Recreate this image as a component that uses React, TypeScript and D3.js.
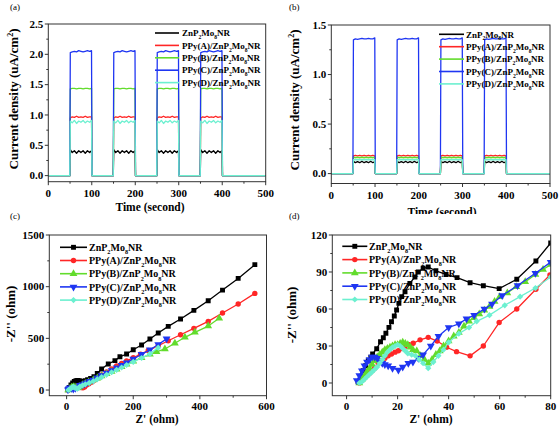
import React from "react";
import * as d3 from "d3";

const W = 559;
const H = 428;
const FONT = "'Liberation Serif', 'Times New Roman', serif";

// ---------- shared legend / style data ----------
const PREFIXES = ["", "PPy(A)/", "PPy(B)/", "PPy(C)/", "PPy(D)/"];
const COLORS = ["#000000", "#ff2626", "#62dc2c", "#1f36f2", "#6cf0d0"];
const MARKERS = ["square", "circle", "triangle", "triangleDown", "diamond"];

// ---------- panel (a): photocurrent ----------
const A_ON = [50, 150, 250, 350];
const A_OFF = [100, 200, 300, 400];
const T_END = 500;
const PLATEAU_T = [0.6, 5, 10, 15, 20, 25, 30, 35, 40, 45, 49.4];
const A_ZNP = [0.43, 0.38, 0.41, 0.37, 0.41, 0.38, 0.41, 0.37, 0.41, 0.38, 0.41];
const A_PPYA = [0.95, 0.97, 0.96, 0.98, 0.96, 0.97, 0.96, 0.98, 0.96, 0.97, 0.97];
const A_PPYB = [1.43, 1.44, 1.44, 1.43, 1.44, 1.44, 1.43, 1.44, 1.44, 1.43, 1.44];
const A_PPYC = [2.03, 2.04, 2.05, 2.04, 2.06, 2.05, 2.04, 2.05, 2.06, 2.05, 2.06];
const A_PPYD = [0.9, 0.87, 0.91, 0.86, 0.9, 0.88, 0.91, 0.87, 0.9, 0.88, 0.91];
const A_EDGE = [0.2, 0.48, 0.72, 1.02, 0.45];
const A_XTICKS = [0, 100, 200, 300, 400, 500];
const A_YTICKS = [0, 0.5, 1.0, 1.5, 2.0, 2.5];

// ---------- panel (b): photocurrent ----------
const B_ZNP = [0.125, 0.11, 0.12, 0.11, 0.125, 0.11, 0.12, 0.11, 0.125, 0.11, 0.12];
const B_PPYA = [0.18, 0.185, 0.18, 0.185, 0.18, 0.185, 0.18, 0.185, 0.18, 0.185, 0.18];
const B_PPYB = [0.165, 0.16, 0.165, 0.16, 0.165, 0.16, 0.165, 0.16, 0.165, 0.16, 0.165];
const B_PPYC = [1.35, 1.36, 1.355, 1.36, 1.365, 1.36, 1.36, 1.365, 1.36, 1.36, 1.37];
const B_PPYD = [0.14, 0.14, 0.14, 0.14, 0.14, 0.14, 0.14, 0.14, 0.14, 0.14, 0.14];
const B_EDGE = [0.06, 0.09, 0.08, 0.68, 0.07];
const B_XTICKS = [0, 100, 200, 300, 400, 500];
const B_YTICKS = [0, 0.5, 1.0, 1.5];

// ---------- panel (c): Nyquist, full ----------
const C_ZNP: [number, number][] = [[3, 3], [8, 25], [13, 48], [18, 68], [23, 82], [28, 90], [33, 92], [38, 90], [43, 86], [49, 84], [56, 90], [63, 100], [72, 112], [82, 128], [92, 160], [105, 203], [125, 252], [145, 284], [160, 322], [180, 348], [200, 390], [225, 436], [250, 494], [275, 552], [305, 616], [342, 687], [382, 771], [425, 864], [468, 967], [515, 1080], [565, 1213]];
const C_PPYA: [number, number][] = [[5, 0], [10, 10], [16, 20], [22, 28], [28, 34], [33, 37], [38, 30], [44, 25], [49, 22], [54, 30], [60, 49], [67, 60], [74, 76], [80, 87], [92, 112], [105, 145], [120, 175], [135, 205], [150, 232], [165, 258], [180, 282], [200, 312], [222, 347], [245, 382], [275, 428], [305, 477], [342, 535], [382, 597], [425, 664], [468, 745], [515, 832], [565, 935]];
const C_PPYB: [number, number][] = [[5, 0], [10, 15], [15, 27], [20, 31], [25, 29], [30, 20], [35, 23], [40, 34], [48, 50], [56, 62], [66, 78], [80, 96], [92, 115], [105, 135], [120, 158], [135, 180], [150, 202], [165, 225], [180, 250], [200, 278], [225, 312], [250, 345], [270, 370], [295, 397], [325, 452], [355, 510], [385, 558], [425, 619], [458, 694]];
const C_PPYC: [number, number][] = [[4, 2], [7, 14], [10, 21], [14, 16], [20, 10], [26, 17], [33, 30], [40, 45], [47, 52], [54, 60], [61, 71], [70, 84], [80, 98], [92, 118], [105, 140], [120, 165], [135, 190], [150, 215], [165, 240], [180, 265], [200, 300], [225, 345], [250, 390], [275, 440], [300, 495]];
const C_PPYD: [number, number][] = [[5, 0], [9, 7], [13, 16], [17, 27], [20, 31], [24, 24], [28, 19], [32, 12], [36, 22], [40, 33], [48, 45], [56, 55], [68, 70], [80, 86], [92, 105], [105, 125], [120, 148], [135, 172], [150, 195], [165, 218], [180, 242], [200, 272], [225, 310], [250, 350], [275, 410]];
const C_XTICKS = [0, 200, 400, 600];
const C_YTICKS = [0, 500, 1000, 1500];

// ---------- panel (d): Nyquist, zoomed ----------
const D_ZNP: [number, number][] = [[4.5, 1], [5.5, 5], [6.5, 10], [7.5, 14], [8.5, 18], [9.5, 21], [10.2, 23.5], [11.8, 27.8], [13.3, 33.5], [14.4, 36.7], [15.4, 40.3], [16.6, 45.1], [17.6, 49.7], [18.7, 54.3], [19.6, 59.2], [20.5, 64.6], [21.6, 70], [22.9, 74], [24.8, 80.8], [26.8, 86], [28.1, 90], [30, 93], [32, 94], [35, 91], [39, 88], [43.3, 85.4], [48.4, 81.3], [53.6, 78.9], [59.8, 76.5], [66.7, 84.1], [74.2, 98.9], [80, 113.5]];
const D_PPYA: [number, number][] = [[5, 0], [6, 2], [7, 4], [8, 6], [9, 8], [10, 10], [11, 12], [12.4, 16], [13.5, 18], [15, 20], [16.3, 22], [17.6, 23.5], [19, 25], [20.3, 26.2], [21.5, 28], [22.9, 29.5], [24.5, 31], [26.1, 32.2], [28.8, 35], [32, 37], [35.5, 34], [39.2, 29], [43.1, 25.4], [48.4, 22], [53.6, 30], [59.8, 49], [66.7, 60], [74.2, 76], [79.7, 87.6]];
const D_PPYB: [number, number][] = [[5, 0], [6, 3], [7, 6], [8, 9], [9, 12], [10, 15], [11, 18], [12, 21], [13, 23], [14, 25], [15, 27], [16, 28], [17, 29], [18, 30], [19, 31], [20, 31], [21, 32], [22, 33], [23, 32], [24, 31], [25, 29], [26, 27], [27.5, 26], [29, 22], [30.5, 19], [32, 16], [33.5, 19], [35, 23], [36.5, 26], [38, 30], [40, 34], [42, 38], [44, 41], [46, 46], [48, 50], [50, 53], [52, 56], [54, 59], [56, 62], [58, 66], [60, 70], [63, 73], [66.5, 78], [70, 82], [74, 88], [77, 92], [80, 96]];
const D_PPYC: [number, number][] = [[4, 2], [5, 6], [6, 10], [7, 14], [8, 17], [9, 19], [10, 21], [11, 21], [12, 20], [13, 18], [14, 16], [15, 15], [16.3, 14], [18, 12], [20.3, 10.6], [22, 13], [24.2, 16], [26, 17], [28.1, 20], [30, 23], [33, 30], [36, 38], [40, 45], [44, 48], [47, 52], [50, 55], [54, 60], [57, 64], [61, 71], [67, 79], [74, 89], [80, 98]];
const D_PPYD: [number, number][] = [[5, 0], [6, 1], [7, 3], [8, 5], [9, 7], [10, 9], [11, 11], [12, 13], [13, 16], [14, 19], [15, 22], [16, 25], [17, 27], [18, 29], [19, 30], [20, 31], [21, 30], [22, 28], [23, 26], [24, 24], [25.5, 23], [27, 22], [28.5, 19], [30, 16], [32, 12], [34, 17], [36, 22], [38, 27], [40, 33], [44, 40], [48, 45], [51, 50], [56, 55], [62, 63], [68, 70], [74, 77], [80, 86]];
const D_XTICKS = [0, 20, 40, 60, 80];
const D_YTICKS = [0, 30, 60, 90, 120];

type Pt = [number, number];

function squareWave(plateau: number[], edge: number): Pt[] {
  const pts: Pt[] = [[0, 0]];
  A_ON.forEach((on, i) => {
    const off = A_OFF[i];
    pts.push([on - 0.6, 0], [on, edge]);
    PLATEAU_T.forEach((t, j) => pts.push([on + t, plateau[j]]));
    pts.push([off, edge], [off + 0.6, 0]);
  });
  pts.push([T_END, 0]);
  return pts;
}

function markerPath(kind: string, size: number): { d: string; rot: number } {
  switch (kind) {
    case "square":
      return { d: d3.symbol(d3.symbolSquare, size)()!, rot: 0 };
    case "circle":
      return { d: d3.symbol(d3.symbolCircle, size * 0.95)()!, rot: 0 };
    case "triangle":
      return { d: d3.symbol(d3.symbolTriangle, size * 1.1)()!, rot: 0 };
    case "triangleDown":
      return { d: d3.symbol(d3.symbolTriangle, size * 1.1)()!, rot: 180 };
    default:
      return { d: d3.symbol(d3.symbolSquare, size * 0.8)()!, rot: 45 };
  }
}

function Marker({ kind, x, y, color, size }: { kind: string; x: number; y: number; color: string; size: number }) {
  const m = markerPath(kind, size);
  return <path d={m.d} transform={`translate(${x},${y}) rotate(${m.rot})`} fill={color} />;
}

function SeriesLabel({ x, y, prefix, size }: { x: number; y: number; prefix: string; size: number }) {
  const s = size * 0.62;
  const dy = size * 0.32;
  return (
    <text x={x} y={y} fontSize={size} fontWeight="bold" fontFamily={FONT} fill="#000">
      {prefix}ZnP
      <tspan fontSize={s} dy={dy}>2</tspan>
      <tspan dy={-dy}>Mo</tspan>
      <tspan fontSize={s} dy={dy}>8</tspan>
      <tspan dy={-dy}>NR</tspan>
    </text>
  );
}

type PanelProps = {
  id: string;
  left: number; right: number; top: number; bottom: number;
  xDom: [number, number]; yDom: [number, number];
  xTicks: number[]; yTicks: number[];
  fmtY: (v: number) => string;
  series: { pts: Pt[]; color: string; marker?: string }[];
  legend: { x0: number; x1: number; tx: number; y0: number; dy: number; size: number; markers: boolean };
  xTitle: { x: number; y: number; text: string };
  yTitle: { x: number; y: number; node: React.ReactNode };
  xTickY: number;
  tag: { x: number; y: number; text: string };
  markerSize?: number;
};

function Panel(p: PanelProps) {
  const x = d3.scaleLinear().domain(p.xDom).range([p.left, p.right]);
  const y = d3.scaleLinear().domain(p.yDom).range([p.bottom, p.top]);
  const line = d3.line<Pt>().x((d) => x(d[0])).y((d) => y(d[1]));
  const xMinor = p.xTicks.slice(1).map((t, i) => (t + p.xTicks[i]) / 2);
  const yMinor = p.yTicks.slice(1).map((t, i) => (t + p.yTicks[i]) / 2);
  const ms = p.markerSize ?? 24;
  const axisColor = "#333";
  return (
    <g>
      <defs>
        <clipPath id={`clip-${p.id}`}>
          <rect x={p.left} y={p.top} width={p.right - p.left} height={p.bottom - p.top} />
        </clipPath>
      </defs>
      <text x={p.tag.x} y={p.tag.y} fontSize={9} fontFamily={FONT} fill="#000">{p.tag.text}</text>
      {/* data */}
      <g clipPath={`url(#clip-${p.id})`}>
        {p.series.map((s, i) => (
          <g key={i}>
            <path d={line(s.pts)!} fill="none" stroke={s.color} strokeWidth={1.3} strokeLinejoin="round" />
            {s.marker && s.pts.map((d, j) => (
              <Marker key={j} kind={s.marker!} x={x(d[0])} y={y(d[1])} color={s.color} size={ms} />
            ))}
          </g>
        ))}
      </g>
      {/* frame */}
      <rect x={p.left} y={p.top} width={p.right - p.left} height={p.bottom - p.top} fill="none" stroke={axisColor} strokeWidth={1} />
      {/* x ticks */}
      {p.xTicks.map((t) => (
        <g key={`xt${t}`}>
          <line x1={x(t)} x2={x(t)} y1={p.bottom} y2={p.bottom + 3.5} stroke={axisColor} />
          <text x={x(t)} y={p.xTickY} textAnchor="middle" fontSize={11} fontWeight="bold" fontFamily={FONT}>{t}</text>
        </g>
      ))}
      {xMinor.map((t) => (
        <line key={`xm${t}`} x1={x(t)} x2={x(t)} y1={p.bottom} y2={p.bottom + 2} stroke={axisColor} />
      ))}
      {/* y ticks */}
      {p.yTicks.map((t) => (
        <g key={`yt${t}`}>
          <line x1={p.left - 3.5} x2={p.left} y1={y(t)} y2={y(t)} stroke={axisColor} />
          <text x={p.left - 5} y={y(t) + 3.8} textAnchor="end" fontSize={11} fontWeight="bold" fontFamily={FONT}>{p.fmtY(t)}</text>
        </g>
      ))}
      {yMinor.map((t) => (
        <line key={`ym${t}`} x1={p.left - 2} x2={p.left} y1={y(t)} y2={y(t)} stroke={axisColor} />
      ))}
      {/* titles */}
      <text x={p.xTitle.x} y={p.xTitle.y} textAnchor="middle" fontSize={11.5} fontWeight="bold" fontFamily={FONT}>{p.xTitle.text}</text>
      <text transform={`translate(${p.yTitle.x},${p.yTitle.y}) rotate(-90)`} textAnchor="middle" fontSize={13} fontWeight="bold" fontFamily={FONT}>{p.yTitle.node}</text>
      {/* legend */}
      {PREFIXES.map((pre, i) => {
        const ly = p.legend.y0 + i * p.legend.dy;
        return (
          <g key={`lg${i}`}>
            <line x1={p.legend.x0} x2={p.legend.x1} y1={ly} y2={ly} stroke={COLORS[i]} strokeWidth={1.6} />
            {p.legend.markers && (
              <Marker kind={MARKERS[i]} x={(p.legend.x0 + p.legend.x1) / 2} y={ly} color={COLORS[i]} size={ms} />
            )}
            <SeriesLabel x={p.legend.tx} y={ly + p.legend.size * 0.36} prefix={pre} size={p.legend.size} />
          </g>
        );
      })}
    </g>
  );
}

const currentTitle = (
  <>
    Current density (uA/cm<tspan fontSize={8} dy={-5}>2</tspan><tspan dy={5}>)</tspan>
  </>
);

export default function App() {
  const fmt1 = d3.format(".1f");
  const fmt0 = d3.format("d");
  const aSeries = [A_ZNP, A_PPYA, A_PPYB, A_PPYC, A_PPYD].map((v, i) => ({ pts: squareWave(v, A_EDGE[i]), color: COLORS[i] }));
  const bSeries = [B_ZNP, B_PPYA, B_PPYB, B_PPYC, B_PPYD].map((v, i) => ({ pts: squareWave(v, B_EDGE[i]), color: COLORS[i] }));
  const cSeries = [C_ZNP, C_PPYA, C_PPYB, C_PPYC, C_PPYD].map((v, i) => ({ pts: v, color: COLORS[i], marker: MARKERS[i] }));
  const dSeries = [D_ZNP, D_PPYA, D_PPYB, D_PPYC, D_PPYD].map((v, i) => ({ pts: v, color: COLORS[i], marker: MARKERS[i] }));
  return (
    <svg width={W} height={H} style={{ position: "absolute", left: 0, top: 0, background: "#fff" }}>
      <rect width={W} height={H} fill="#fff" />
      <Panel
        id="a" left={48.3} right={265.7} top={24} bottom={181.7}
        xDom={[0, 500]} yDom={[-0.1, 2.5]} xTicks={A_XTICKS} yTicks={A_YTICKS} fmtY={fmt1}
        series={aSeries}
        legend={{ x0: 155, x1: 179, tx: 182, y0: 33, dy: 12.4, size: 9, markers: false }}
        xTitle={{ x: 150, y: 211, text: "Time (second)" }}
        yTitle={{ x: 18, y: 99, node: currentTitle }}
        xTickY={197}
        tag={{ x: 10, y: 9.5, text: "(a)" }}
      />
      <defs>
        <clipPath id="clip-b-panel"><rect x={279} y={0} width={280} height={214} /></clipPath>
      </defs>
      <g clipPath="url(#clip-b-panel)">
        <Panel
          id="b" left={331.3} right={550} top={25} bottom={183.5}
          xDom={[0, 500]} yDom={[-0.1, 1.5]} xTicks={B_XTICKS} yTicks={B_YTICKS} fmtY={fmt1}
          series={bSeries}
          legend={{ x0: 439, x1: 464, tx: 466, y0: 34.3, dy: 12.4, size: 9, markers: false }}
          xTitle={{ x: 442, y: 216, text: "Time (second)" }}
          yTitle={{ x: 298.5, y: 100, node: currentTitle }}
          xTickY={198.5}
          tag={{ x: 289, y: 9.5, text: "(b)" }}
        />
      </g>
      <Panel
        id="c" left={49.3} right={266.5} top={235} bottom={395.7}
        xDom={[-52, 600]} yDom={[-55, 1500]} xTicks={C_XTICKS} yTicks={C_YTICKS} fmtY={fmt0}
        series={cSeries}
        legend={{ x0: 60, x1: 87, tx: 89, y0: 247.3, dy: 13.2, size: 10, markers: true }}
        xTitle={{ x: 157, y: 422.5, text: "Z' (ohm)" }}
        yTitle={{ x: 15, y: 314, node: "-Z'' (ohm)" }}
        xTickY={409.5}
        tag={{ x: 10, y: 219, text: "(c)" }}
      />
      <Panel
        id="d" left={332.3} right={550.7} top={235} bottom={395.7}
        xDom={[-5.6, 80]} yDom={[-10.3, 120]} xTicks={D_XTICKS} yTicks={D_YTICKS} fmtY={fmt0}
        series={dSeries}
        legend={{ x0: 342.3, x1: 367.3, tx: 369, y0: 246.3, dy: 13.3, size: 10, markers: true }}
        xTitle={{ x: 431, y: 422.5, text: "Z' (ohm)" }}
        yTitle={{ x: 296, y: 315, node: "-Z'' (ohm)" }}
        xTickY={409.5}
        tag={{ x: 289, y: 219, text: "(d)" }}
      />
    </svg>
  );
}
